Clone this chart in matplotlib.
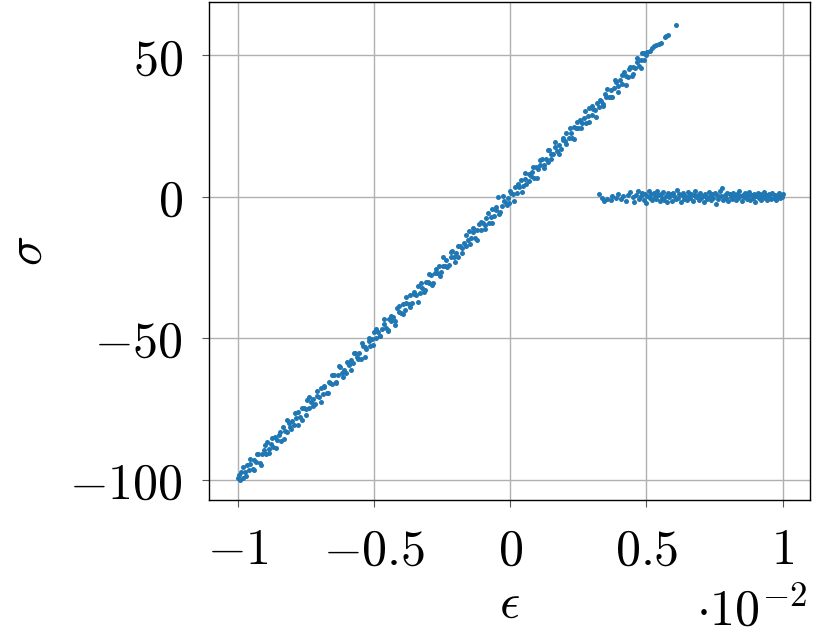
import matplotlib
matplotlib.use("Agg")
import matplotlib.pyplot as plt

# strain in units of 1e-2, stress
eps_line = [-1.000, -0.994, -0.989, -0.981, -0.975, -0.968, -0.962, -0.955, -0.947, -0.941,
            -0.934, -0.927, -0.921, -0.913, -0.906, -0.899, -0.893, -0.885, -0.878, -0.871,
            -0.864, -0.858, -0.850, -0.843, -0.837, -0.829, -0.822, -0.815, -0.809, -0.801,
            -0.794, -0.788, -0.780, -0.773, -0.767, -0.759, -0.752, -0.746, -0.738, -0.731,
            -0.725, -0.717, -0.710, -0.704, -0.696, -0.689, -0.683, -0.675, -0.668, -0.661,
            -0.655, -0.647, -0.640, -0.634, -0.626, -0.619, -0.613, -0.605, -0.598, -0.592,
            -0.584, -0.577, -0.571, -0.563, -0.556, -0.550, -0.542, -0.535, -0.529, -0.521,
            -0.514, -0.508, -0.500, -0.493, -0.487, -0.479, -0.472, -0.466, -0.458, -0.451,
            -0.445, -0.437, -0.430, -0.424, -0.416, -0.409, -0.403, -0.395, -0.388, -0.382,
            -0.374, -0.367, -0.361, -0.353, -0.346, -0.340, -0.332, -0.325, -0.319, -0.311,
            -0.304, -0.298, -0.290, -0.283, -0.277, -0.269, -0.262, -0.256, -0.248, -0.241,
            -0.235, -0.227, -0.220, -0.214, -0.206, -0.199, -0.193, -0.185, -0.178, -0.172,
            -0.164, -0.157, -0.151, -0.143, -0.136, -0.130, -0.122, -0.115, -0.109, -0.101,
            -0.094, -0.088, -0.080, -0.073, -0.067, -0.059, -0.052, -0.046, -0.038, -0.031,
            -0.025, -0.017, -0.010, -0.004, 0.004, 0.011, 0.017, 0.025, 0.032, 0.038,
            0.046, 0.053, 0.059, 0.067, 0.074, 0.080, 0.088, 0.095, 0.101, 0.109,
            0.116, 0.122, 0.130, 0.137, 0.143, 0.151, 0.158, 0.164, 0.172, 0.179,
            0.185, 0.193, 0.200, 0.206, 0.214, 0.221, 0.227, 0.235, 0.242, 0.248,
            0.256, 0.263, 0.269, 0.277, 0.284, 0.290, 0.298, 0.305, 0.311, 0.319,
            0.326, 0.332, 0.340, 0.347, 0.353, 0.361, 0.368, 0.374, 0.382, 0.389,
            0.395, 0.403, 0.410, 0.416, 0.424, 0.431, 0.437, 0.445, 0.452, 0.458,
            0.466, 0.472, 0.478, 0.485, 0.490, 0.497, 0.503, 0.512, 0.522, 0.528,
            0.535, 0.545, 0.552, 0.568, 0.572, 0.578, 0.607]
sig_line = [-99.4, -100.2, -97.4, -99.3, -97.2, -94.8, -96.6, -94.4, -96.3, -93.2,
            -93.7, -91.0, -94.2, -90.9, -89.6, -90.8, -86.9, -89.1, -87.6, -88.5,
            -85.1, -86.0, -84.2, -86.2, -81.5, -82.8, -83.3, -79.9, -81.4, -79.4,
            -80.7, -78.3, -76.1, -78.0, -79.0, -74.7, -75.2, -71.9, -74.7, -72.7,
            -71.5, -73.4, -70.4, -70.7, -67.5, -69.9, -67.4, -69.5, -65.4, -65.9,
            -66.3, -63.2, -65.4, -63.1, -60.1, -62.5, -61.2, -62.3, -58.7, -59.4,
            -57.7, -58.8, -55.3, -56.7, -55.4, -57.4, -52.9, -53.0, -53.8, -51.1,
            -52.9, -50.4, -48.0, -50.0, -47.8, -49.1, -46.9, -44.9, -46.3, -47.1,
            -43.3, -44.0, -42.4, -44.0, -39.3, -40.9, -41.1, -38.1, -39.9, -37.7,
            -37.8, -34.8, -37.4, -34.5, -34.7, -31.4, -34.1, -32.2, -33.6, -30.0,
            -30.2, -30.4, -27.5, -30.4, -27.0, -26.9, -24.4, -26.6, -24.4, -24.4,
            -22.2, -24.1, -21.4, -19.2, -21.4, -19.8, -21.2, -17.5, -18.0, -16.4,
            -17.5, -15.2, -12.0, -14.7, -12.4, -14.6, -11.9, -9.5, -11.6, -9.2,
            -9.9, -7.4, -9.2, -7.1, -4.3, -6.8, -4.6, -0.1, -5.3, -3.1,
            -1.4, -2.3, -0.6, -2.2, 1.3, 0.8, 3.3, 1.5, 3.4, 5.9,
            3.9, 6.1, 4.6, 8.2, 7.2, 8.6, 6.8, 10.5, 9.7, 11.2,
            13.3, 11.3, 13.5, 12.3, 16.5, 15.1, 15.2, 17.6, 16.1, 18.3,
            17.0, 20.2, 19.7, 22.6, 20.6, 22.7, 20.8, 24.6, 24.4, 24.3,
            27.0, 26.1, 27.7, 26.1, 28.7, 31.4, 28.8, 31.0, 30.7, 33.2,
            31.7, 33.8, 32.7, 36.5, 35.3, 35.4, 37.9, 35.2, 38.6, 40.5,
            39.0, 41.2, 39.9, 44.2, 42.6, 42.5, 45.1, 42.7, 45.9, 45.5,
            47.6, 46.4, 48.2, 50.8, 48.5, 50.3, 51.2, 51.5, 52.6, 53.2,
            53.8, 54.1, 54.4, 56.4, 56.9, 57.3, 60.9]

# more loading-branch samples (wider scatter)
eps_line2 = [-0.997, -0.984, -0.970, -0.956, -0.943, -0.929, -0.916, -0.902, -0.888, -0.874,
             -0.861, -0.847, -0.833, -0.820, -0.806, -0.792, -0.779, -0.765, -0.751, -0.738,
             -0.724, -0.710, -0.697, -0.683, -0.669, -0.656, -0.642, -0.628, -0.615, -0.601,
             -0.587, -0.574, -0.560, -0.546, -0.533, -0.519, -0.505, -0.492, -0.478, -0.464,
             -0.451, -0.437, -0.423, -0.410, -0.396, -0.382, -0.369, -0.355, -0.341, -0.328,
             -0.314, -0.300, -0.287, -0.273, -0.259, -0.246, -0.232, -0.218, -0.205, -0.191,
             -0.177, -0.164, -0.150, -0.136, -0.123, -0.109, -0.095, -0.082, -0.068, -0.054,
             -0.041, -0.027, -0.013, 0.000, 0.014, 0.028, 0.041, 0.055, 0.069, 0.082,
             0.096, 0.110, 0.123, 0.137, 0.151, 0.164, 0.178, 0.192, 0.205, 0.219,
             0.233, 0.246, 0.260, 0.274, 0.287, 0.301, 0.315, 0.328, 0.342, 0.356,
             0.369, 0.383, 0.397, 0.410, 0.424, 0.438, 0.451, 0.465, 0.479, 0.492]
sig_line2 = [-98.5, -95.6, -98.9, -92.6, -96.7, -91.0, -94.7, -87.7, -90.5, -85.2,
             -88.9, -83.1, -85.5, -78.8, -82.1, -76.6, -80.8, -74.7, -77.1, -70.9,
             -74.0, -68.6, -72.7, -66.8, -69.4, -62.9, -66.0, -59.7, -63.8, -58.4,
             -61.4, -55.4, -57.4, -51.8, -56.5, -50.0, -52.6, -46.6, -49.4, -43.4,
             -47.5, -42.2, -45.2, -38.7, -41.3, -35.3, -39.1, -33.7, -37.1, -30.4,
             -32.9, -27.3, -31.3, -25.7, -27.9, -21.4, -25.0, -19.7, -23.2, -17.4,
             -20.0, -13.6, -16.6, -11.1, -15.4, -8.9, -11.4, -5.6, -9.3, -3.6,
             -6.2, 0.3, -3.0, 2.2, -1.4, 4.4, 1.7, 8.4, 5.4, 10.5,
             6.6, 12.9, 10.1, 16.4, 13.3, 19.5, 15.2, 20.9, 18.5, 24.4,
             20.4, 26.4, 24.4, 30.2, 26.4, 32.1, 28.3, 34.3, 32.1, 38.2,
             35.2, 41.3, 37.2, 42.9, 39.6, 46.0, 43.5, 49.2, 45.5, 51.0]

eps_flat = [0.325, 0.337, 0.344, 0.356, 0.368, 0.375, 0.388, 0.395, 0.405, 0.414,
            0.426, 0.433, 0.441, 0.449, 0.455, 0.461, 0.468, 0.473, 0.479, 0.484,
            0.489, 0.494, 0.499, 0.503, 0.508, 0.512, 0.517, 0.521, 0.526, 0.530,
            0.535, 0.539, 0.544, 0.548, 0.553, 0.557, 0.562, 0.566, 0.571, 0.575,
            0.580, 0.584, 0.589, 0.593, 0.598, 0.602, 0.607, 0.611, 0.616, 0.620,
            0.625, 0.629, 0.634, 0.638, 0.643, 0.647, 0.652, 0.656, 0.661, 0.665,
            0.670, 0.674, 0.679, 0.683, 0.688, 0.692, 0.697, 0.701, 0.706, 0.710,
            0.715, 0.719, 0.724, 0.728, 0.733, 0.737, 0.742, 0.746, 0.751, 0.755,
            0.760, 0.764, 0.769, 0.773, 0.778, 0.782, 0.787, 0.791, 0.796, 0.800,
            0.805, 0.809, 0.814, 0.818, 0.823, 0.827, 0.832, 0.836, 0.841, 0.845,
            0.850, 0.854, 0.859, 0.863, 0.868, 0.872, 0.877, 0.881, 0.886, 0.890,
            0.895, 0.899, 0.904, 0.908, 0.913, 0.917, 0.922, 0.926, 0.931, 0.935,
            0.940, 0.944, 0.949, 0.953, 0.958, 0.962, 0.967, 0.971, 0.976, 0.980,
            0.985, 0.989, 0.994, 0.998, 1.000]
sig_flat = [0.9, -0.3, -1.4, -0.8, -1.2, 0.2, -0.6, 1.1, -0.9, 0.4,
            -1.5, 0.7, 1.6, -0.2, -1.9, 0.5, 2.0, -0.7, 0.1, 1.3,
            -1.1, 0.8, -2.2, 0.3, 1.9, -0.5, 0.9, -1.3, 1.4, 0.0,
            -0.9, 2.2, 0.6, -1.6, 1.0, -0.3, 1.7, -1.0, 0.4, -2.0,
            1.2, -0.1, 0.8, -1.4, 1.5, 0.2, -0.7, 2.5, -0.4, 0.9,
            -1.8, 0.6, 1.3, -0.9, 0.1, -1.2, 1.8, 0.3, -0.6, 1.0,
            -1.5, 0.5, 2.0, -0.2, 0.7, -1.1, 1.4, -0.5, 0.2, -1.9,
            1.1, 0.0, -0.8, 1.6, 0.4, -1.3, 0.9, -0.3, 1.3, -2.4,
            0.6, -0.7, 1.9, 0.1, 3.2, -1.0, 0.5, -0.4, 1.2, -1.6,
            0.8, 0.0, -0.9, 1.5, 0.3, -1.2, 1.0, -0.5, 2.1, 0.2,
            -1.4, 0.7, -0.2, 1.3, -0.8, 0.4, 1.7, -1.1, 0.6, -0.3,
            1.0, -1.7, 0.2, 1.4, -0.6, 0.8, -1.0, 0.3, 1.6, -0.4,
            0.5, -1.3, 1.1, 0.0, -0.8, 1.2, -0.3, 0.7, -1.1, 0.4,
            1.3, -0.6, 0.6, -0.2, 0.8]

xticks = [-1, -0.5, 0, 0.5, 1]
xlabels = [r'$-1$', r'$-0.5$', r'$0$', r'$0.5$', r'$1$']
yticks = [-100, -50, 0, 50]
ylabels = [r'$-100$', r'$-50$', r'$0$', r'$50$']

plt.rcParams['mathtext.fontset'] = 'cm'
plt.rcParams['font.size'] = 36

fig = plt.figure(figsize=(8.23, 6.36), dpi=100)
ax = fig.add_axes([0.254, 0.214, 0.730, 0.783])

xs = eps_line + eps_line2 + eps_flat
ys = sig_line + sig_line2 + sig_flat
ax.scatter(xs, ys, s=13, color='#1f77b4', linewidths=0, zorder=3)

ax.set_xlim(-1.107, 1.1)
ax.set_ylim(-107.2, 68.9)
ax.set_xticks(xticks)
ax.set_xticklabels(xlabels)
ax.set_yticks(yticks)
ax.set_yticklabels(ylabels)
ax.tick_params(direction='out', length=5, width=0.8, pad=14, labelsize=36, color='#555555')
ax.grid(True, color='#b0b0b0', linewidth=1.0)
ax.set_axisbelow(True)
for s in ax.spines.values():
    s.set_linewidth(1.0)

ax.set_xlabel(r'$\epsilon$', fontsize=36, labelpad=4)
ax.set_ylabel(r'$\sigma$', fontsize=36, labelpad=12)
fig.text(0.98, 0.016, r'$\cdot 10^{-2}$', ha='right', va='baseline', fontsize=36)

fig.savefig('out.png', dpi=100)
